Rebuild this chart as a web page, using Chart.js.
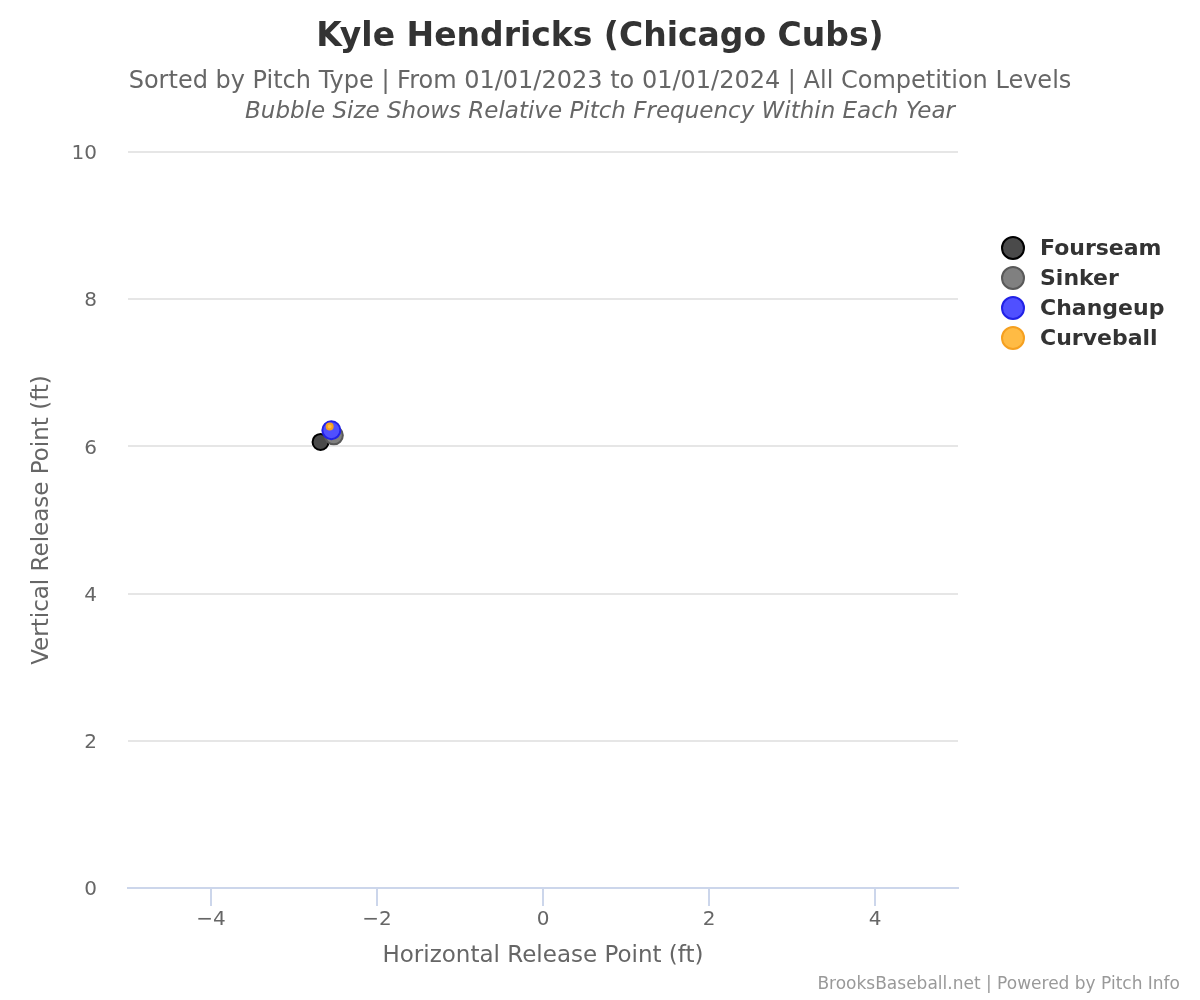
<!DOCTYPE html>
<html>
<head>
<meta charset="utf-8">
<script src="https://cdn.jsdelivr.net/npm/chart.js@4.4.1/dist/chart.umd.min.js"></script>
<style>
  html, body { margin: 0; padding: 0; background: #fff; }
  #wrap { width: 1200px; height: 1000px; position: relative; }
</style>
</head>
<body>
<div id="wrap"><canvas id="releaseChart"></canvas></div>
<script>
// data
const pitchTypes = ['Fourseam', 'Sinker', 'Changeup', 'Curveball'];
const releaseX = [-2.68, -2.52, -2.55, -2.57];
const releaseZ = [6.06, 6.15, 6.22, 6.27];
const bubbleSize = [8, 9, 9, 3];
const xTicks = [-4, -2, 0, 2, 4];
const yTicks = [0, 2, 4, 6, 8, 10];

const fills = ['#4a4a4a', '#808080', '#5050ff', '#ffbb44'];
const strokes = ['#000000', '#595959', '#2222e6', '#f5a020'];

const FONT = "'DejaVu Sans', Verdana, sans-serif";
Chart.defaults.font.family = FONT;
Chart.defaults.color = '#666666';

const datasets = pitchTypes.map((name, i) => ({
    label: name,
    data: [{ x: releaseX[i], y: releaseZ[i], r: bubbleSize[i] }],
    backgroundColor: fills[i],
    borderColor: strokes[i],
    borderWidth: 2,
    hoverRadius: 0,
    order: pitchTypes.length - i
}));

const decorations = {
    id: 'decorations',
    afterDraw(chart) {
        const c = chart.ctx;
        c.save();
        c.textAlign = 'center';
        c.textBaseline = 'middle';
        c.fillStyle = '#333333';
        c.font = "bold 33px " + FONT;
        c.fillText('Kyle Hendricks (Chicago Cubs)', 600, 37);
        c.fillStyle = '#666666';
        c.font = "24px " + FONT;
        c.fillText('Sorted by Pitch Type | From 01/01/2023 to 01/01/2024 | All Competition Levels', 600, 82);
        c.font = "italic 23px " + FONT;
        c.fillText('Bubble Size Shows Relative Pitch Frequency Within Each Year', 600, 112);

        // legend
        c.textAlign = 'left';
        c.font = "bold 22px " + FONT;
        pitchTypes.forEach((name, i) => {
            const y = 248 + i * 30;
            c.beginPath();
            c.arc(1013, y, 11, 0, Math.PI * 2);
            c.fillStyle = fills[i];
            c.fill();
            c.lineWidth = 2;
            c.strokeStyle = strokes[i];
            c.stroke();
            c.fillStyle = '#333333';
            c.fillText(name, 1040, y + 1);
        });

        // credits
        c.textAlign = 'right';
        c.font = "17px " + FONT;
        c.fillStyle = '#999999';
        c.fillText('BrooksBaseball.net | Powered by Pitch Info', 1180, 985);
        c.restore();
    }
};

const minus = v => (v < 0 ? '\u2212' + Math.abs(v) : String(v));

new Chart(document.getElementById('releaseChart'), {
    type: 'bubble',
    data: { datasets },
    options: {
        responsive: true,
        maintainAspectRatio: false,
        animation: false,
        layout: { padding: { top: 152, left: 24, right: 242, bottom: 26 } },
        plugins: {
            legend: { display: false },
            tooltip: { enabled: false }
        },
        scales: {
            x: {
                type: 'linear',
                min: -5,
                max: 5,
                afterBuildTicks: s => { s.ticks = xTicks.map(v => ({ value: v })); },
                afterFit: s => { s.height = 86; },
                grid: {
                    drawOnChartArea: false,
                    drawTicks: true,
                    tickLength: 18,
                    color: '#ccd6eb',
                    lineWidth: 2
                },
                border: { display: true, color: '#ccd6eb', width: 2 },
                ticks: {
                    padding: 2,
                    font: { size: 20 },
                    color: '#666666',
                    callback: v => minus(v)
                },
                title: {
                    display: true,
                    text: 'Horizontal Release Point (ft)',
                    font: { size: 23 },
                    color: '#666666'
                }
            },
            y: {
                type: 'linear',
                min: 0,
                max: 10,
                afterBuildTicks: s => { s.ticks = yTicks.map(v => ({ value: v })); },
                afterFit: s => { s.width = 104; },
                grid: {
                    drawTicks: false,
                    color: ctx => (ctx.tick && ctx.tick.value === 0 ? 'rgba(0,0,0,0)' : '#e6e6e6'),
                    lineWidth: 2
                },
                border: { display: false },
                ticks: {
                    padding: 31,
                    labelOffset: 2,
                    font: { size: 20 },
                    color: '#666666',
                    callback: v => minus(v)
                },
                title: {
                    display: true,
                    text: 'Vertical Release Point (ft)',
                    font: { size: 23 },
                    color: '#666666'
                }
            }
        }
    },
    plugins: [decorations]
});
</script>
</body>
</html>
